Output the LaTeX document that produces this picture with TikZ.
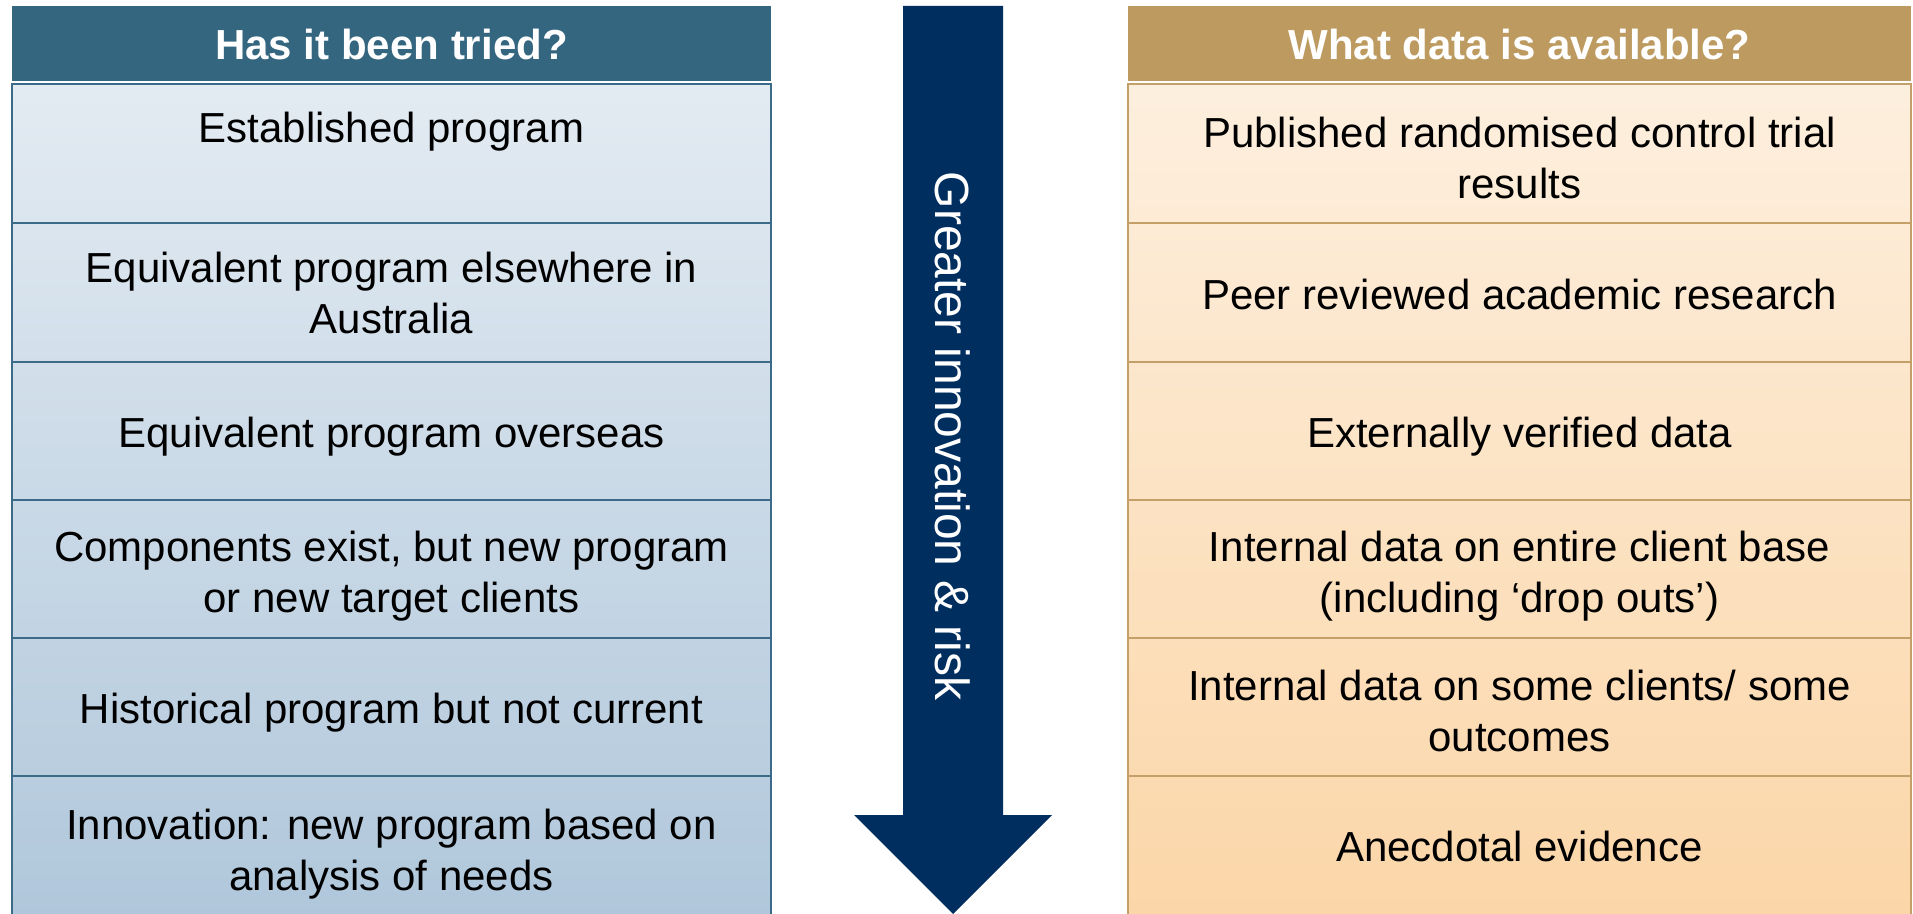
\documentclass[tikz,border=0pt]{standalone}
\usepackage{fontspec}
\setmainfont{Liberation Sans}
\definecolor{lhead}{RGB}{52,102,128}
\definecolor{rhead}{RGB}{189,154,96}
\definecolor{lt}{RGB}{227,235,242}
\definecolor{lb}{RGB}{176,199,219}
\definecolor{rt}{RGB}{253,239,222}
\definecolor{rb}{RGB}{251,214,168}
\definecolor{lline}{RGB}{59,107,136}
\definecolor{rline}{RGB}{196,159,104}
\definecolor{arrowblue}{RGB}{0,46,95}
\begin{document}
\begin{tikzpicture}[x=0.5pt,y=-0.5pt,
  txt/.style={align=center,text=black,font=\fontsize{21}{25.5}\selectfont,inner sep=0pt},
  headtxt/.style={align=center,text=white,font=\bfseries\fontsize{21}{25.5}\selectfont,inner sep=0pt},
  arrowtxt/.style={rotate=-90,text=white,font=\fontsize{24}{28}\selectfont,inner sep=0pt}]
\useasboundingbox (0,0) rectangle (1913,914);
\fill[white] (0,0) rectangle (1913,914);
% left table
\fill[lhead] (12,6) rectangle (771,81);
\foreach \ya/\yb [count=\i from 0] in {84/223,223/362,362/500,500/638,638/776,776/916}{
  \pgfmathtruncatemacro\ft{100*\i/6}
  \pgfmathtruncatemacro\fb{100*(\i+1)/6}
  \shade[top color=lb!\ft!lt,bottom color=lb!\fb!lt] (12,\ya) rectangle (771,\yb);
  \draw[lline,line width=1pt] (12,\ya) rectangle (771,\yb);
}
% right table
\fill[rhead] (1128,6) rectangle (1911,81);
\foreach \ya/\yb [count=\i from 0] in {84/223,223/362,362/500,500/638,638/776,776/916}{
  \pgfmathtruncatemacro\ft{100*\i/6}
  \pgfmathtruncatemacro\fb{100*(\i+1)/6}
  \shade[top color=rb!\ft!rt,bottom color=rb!\fb!rt] (1128,\ya) rectangle (1911,\yb);
  \draw[rline,line width=1pt] (1128,\ya) rectangle (1911,\yb);
}
% headers
\node[headtxt] (lh) at (391.5,44) {Has it been tried?};
\node[headtxt] (rh) at (1519.5,44) {What data is available?};
% left texts
\node[txt] (l1) at (391.5,132) {Established program};
\node[txt] (l2) at (391.5,293) {Equivalent program elsewhere in\\Australia};
\node[txt] (l3) at (391.5,437) {Equivalent program overseas};
\node[txt] (l4) at (391.5,576) {Components exist, but new program\\or new target clients};
\node[txt] (l5) at (391.5,713) {Historical program but not current};
\node[txt] (l6) at (391.5,854) {Innovation: new program based on\\analysis of needs};
% right texts
\node[txt] (r1) at (1519.5,158) {Published randomised control trial\\results};
\node[txt] (r2) at (1519.5,294) {Peer reviewed academic research};
\node[txt] (r3) at (1519.5,437) {Externally verified data};
\node[txt] (r4) at (1519.5,576) {Internal data on entire client base\\(including ‘drop outs’)};
\node[txt] (r5) at (1519.5,711) {Internal data on some clients/ some\\outcomes};
\node[txt] (r6) at (1519.5,846) {Anecdotal evidence};
% arrow
\fill[arrowblue] (903,6) -- (1003,6) -- (1003,815) -- (1052,815) -- (953,914) -- (854,815) -- (903,815) -- cycle;
\node[arrowtxt] (at) at (953,436) {Greater innovation \& risk};
\end{tikzpicture}
\end{document}
